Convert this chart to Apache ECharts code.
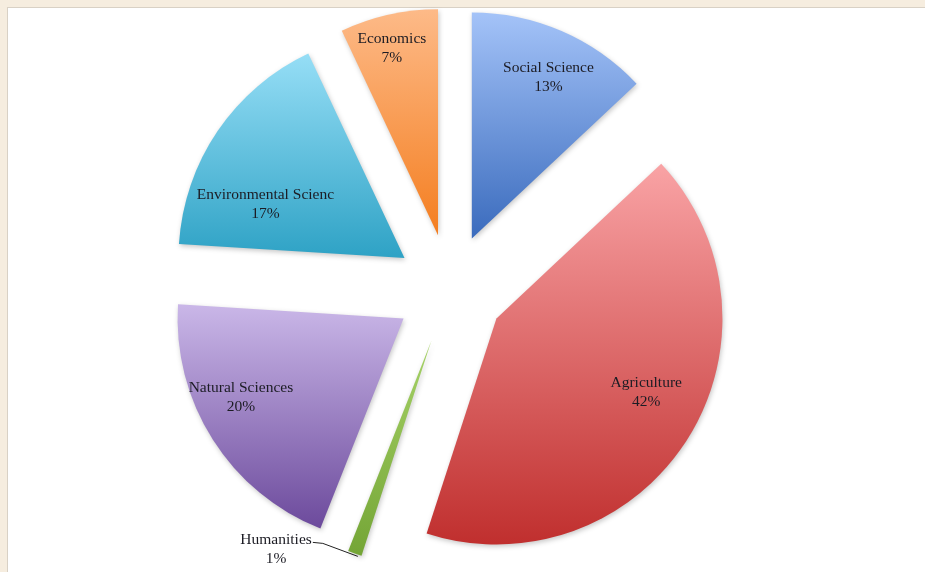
<!DOCTYPE html>
<html>
<head>
<meta charset="utf-8">
<script src="https://cdn.jsdelivr.net/npm/echarts@6/dist/echarts.min.js"></script>
<style>
  html, body { margin: 0; padding: 0; }
  body { width: 925px; height: 572px; background: #f6eddf; overflow: hidden; position: relative; }
  #sheet { position: absolute; left: 7px; top: 7px; right: 0; bottom: 0; background: #ffffff;
           border-left: 1px solid #d9d1c5; border-top: 1px solid #d9d1c5; }
  #chart { position: absolute; left: 0; top: 0; width: 925px; height: 572px; }
</style>
</head>
<body>
<div id="sheet"></div>
<div id="chart"></div>
<script>
// Fields of study and their share of the total (percent)
const categories = ['Social Science', 'Agriculture', 'Humanities', 'Natural Sciences', 'Environmental Scienc', 'Economics'];
const shares = [13, 42, 1, 20, 17, 7];

// Top-to-bottom gradient for each slice
const sliceColors = [
  ['#a4c3f8', '#3a6bbd'],
  ['#f9a3a5', '#c02f2e'],
  ['#a6d267', '#74a536'],
  ['#cab7e8', '#6c4a9c'],
  ['#96def6', '#2ea2c5'],
  ['#fdba88', '#f47e20']
];

// Pie geometry: every slice is pulled out from the common centre
const CX = 450, CY = 289, R = 226, EXPLODE = 55;

// Where each in-slice label sits: angular nudge from the slice bisector (deg)
// and distance from the slice tip as a fraction of the radius
const labelPlace = [
  { turn: 2, depth: 0.79 },
  { turn: -6, depth: 0.74 },
  null,
  { turn: 6.5, depth: 0.80 },
  { turn: -13, depth: 0.66 },
  { turn: -1.3, depth: 0.85 }
];

const total = shares.reduce((a, b) => a + b, 0);

function sliceMid(i) {
  let before = 0;
  for (let k = 0; k < i; k++) before += shares[k];
  return (before + shares[i] / 2) / total * 360;
}
function polar(x, y, deg, dist) {
  const a = deg * Math.PI / 180;
  return [x + dist * Math.sin(a), y - dist * Math.cos(a)];
}

const labelFont = {
  fontFamily: 'Liberation Serif',
  fontSize: 15.5,
  lineHeight: 19,
  color: '#1c1c24'
};

// One pie per slice: each holds the whole data set (so angles come from the
// full total) but only paints its own slice, centred at its exploded position.
const series = categories.map((_, s) => {
  const mid = sliceMid(s);
  const tip = polar(CX, CY, mid, EXPLODE);
  const place = labelPlace[s];
  return {
    type: 'pie',
    center: [tip[0], tip[1]],
    radius: R,
    startAngle: 90,
    clockwise: true,
    avoidLabelOverlap: false,
    silent: true,
    emphasis: { disabled: true },
    label: Object.assign({
      show: false,
      formatter: '{b}\n{c}%',
      align: 'center'
    }, labelFont),
    labelLine: { show: false, lineStyle: { color: '#222222', width: 1 } },
    labelLayout: function (p) {
      if (p.dataIndex !== s) return {};
      if (place) {
        const pos = polar(tip[0], tip[1], mid + place.turn, place.depth * R);
        return { x: pos[0], y: pos[1], align: 'center', verticalAlign: 'middle' };
      }
      // Thin slice: label off to the lower left with a short leader line
      const edge = polar(tip[0], tip[1], mid, R);
      const w = p.labelRect.width;
      const lineEnd = [edge[0] - 42, edge[1] - 11];
      return {
        x: lineEnd[0] - w / 2 - 1,
        y: edge[1] - 4,
        align: 'center',
        verticalAlign: 'middle',
        labelLinePoints: [
          [edge[0] + 3, edge[1] + 3],
          [edge[0] - 32, edge[1] - 10],
          lineEnd
        ]
      };
    },
    data: categories.map((name, i) => {
      const own = i === s;
      return {
        name: name,
        value: shares[i],
        itemStyle: own ? {
          color: {
            type: 'linear', x: 0, y: 0, x2: 0, y2: 1,
            colorStops: [
              { offset: 0, color: sliceColors[i][0] },
              { offset: 1, color: sliceColors[i][1] }
            ]
          },
          shadowBlur: 5,
          shadowColor: 'rgba(0,0,0,0.22)',
          shadowOffsetX: 1,
          shadowOffsetY: 2
        } : { color: 'rgba(0,0,0,0)' },
        label: { show: own, position: place ? 'inside' : 'outside' },
        labelLine: { show: own && !place }
      };
    })
  };
});

const chart = echarts.init(document.getElementById('chart'), null, { renderer: 'canvas' });
chart.setOption({
  animation: false,
  backgroundColor: 'transparent',
  series: series
});
</script>
</body>
</html>
